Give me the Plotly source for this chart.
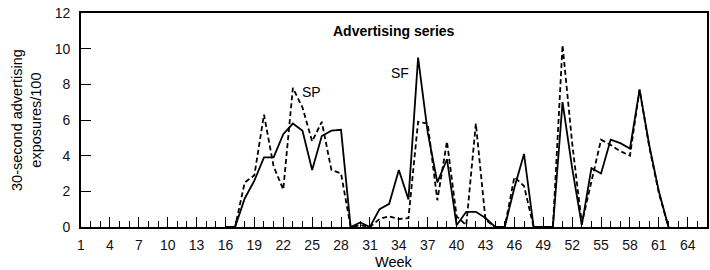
import plotly.graph_objects as go

weeks = list(range(16, 63))
sf_solid = [0, 0, 1.6, 2.6, 3.9, 3.9, 5.2, 5.8, 5.4, 3.2, 5.1, 5.4, 5.45,
            0, 0.25, 0, 1.0, 1.3, 3.2, 1.55, 9.5, 5.3, 2.5, 3.8, 0.1, 0.85,
            0.85, 0.5, 0, 0, 2.2, 4.1, 0, 0, 0, 7.0, 3.3, 0.1, 3.3, 3.0, 4.9,
            4.7, 4.4, 7.7, 4.6, 2.0, 0]
sp_dashed = [0, 0, 2.5, 2.9, 6.3, 3.4, 2.1, 7.8, 6.7, 4.8, 5.9, 3.2, 3.0,
             0, 0.1, 0, 0.45, 0.6, 0.45, 0.5, 5.9, 5.8, 1.5, 4.8, 0.6, 0.1,
             5.8, 0.4, 0, 0, 2.8, 2.3, 0, 0, 0, 10.2, 4.7, 0.2, 2.5, 4.9, 4.6,
             4.25, 4.0, 7.7, 4.5, 1.9, 0]
x_tick_labels = list(range(1, 65, 3))
y_tick_labels = list(range(0, 13, 2))

FONT = "Liberation Sans, Arial, sans-serif"

fig = go.Figure()
fig.add_trace(go.Scatter(x=weeks, y=sp_dashed, mode="lines", name="SP",
                         line=dict(color="black", width=1.8, dash="5px,3px")))
fig.add_trace(go.Scatter(x=weeks, y=sf_solid, mode="lines", name="SF",
                         line=dict(color="black", width=1.8)))

fig.update_layout(
    width=710, height=270,
    margin=dict(l=81, r=1, t=13, b=43),
    paper_bgcolor="white", plot_bgcolor="white",
    showlegend=False,
    font=dict(family=FONT, size=14, color="#111"),
    xaxis=dict(range=[1, 66], showgrid=False, zeroline=False,
               showline=True, linecolor="black", linewidth=1.8, mirror=True,
               tickmode="array", tickvals=x_tick_labels,
               ticktext=[str(v) for v in x_tick_labels],
               ticks="inside", ticklen=10, tickwidth=1.3, tickcolor="black",
               ticklabelstandoff=4,
               minor=dict(ticks="inside", ticklen=6, tickwidth=1.3,
                          tickcolor="black", dtick=1, tick0=1, showgrid=False),
               tickfont=dict(size=14)),
    yaxis=dict(range=[0, 12], showgrid=False, zeroline=False,
               showline=True, linecolor="black", linewidth=1.8, mirror=True,
               tickmode="array", tickvals=y_tick_labels,
               ticks="inside", ticklen=10, tickwidth=1.3, tickcolor="black",
               ticklabelstandoff=6, tickfont=dict(size=14)),
)

fig.add_annotation(text="<b>Advertising series</b>", xref="paper", yref="paper",
                   x=0.5, y=(226.7 - 31) / 213.7, xanchor="center", yanchor="middle",
                   showarrow=False, font=dict(size=14, family=FONT, color="black"))
fig.add_annotation(text="SP", x=24.9, y=7.56, showarrow=False,
                   xanchor="center", yanchor="middle",
                   font=dict(size=14, family=FONT, color="black"))
fig.add_annotation(text="SF", x=34.1, y=8.63, showarrow=False,
                   xanchor="center", yanchor="middle",
                   font=dict(size=14, family=FONT, color="black"))
fig.add_annotation(text="Week", xref="paper", yref="paper", x=0.5,
                   y=(226.7 - 262) / 213.7, xanchor="center", yanchor="middle",
                   showarrow=False, font=dict(size=14.5, family=FONT, color="black"))
fig.add_annotation(text="30-second advertising<br>exposures/100", xref="paper",
                   yref="paper", x=0, xshift=-55, y=0.5, textangle=-90,
                   xanchor="center", yanchor="middle", showarrow=False,
                   font=dict(size=14.5, family=FONT, color="black"))

fig.write_html("out.html", config={"displayModeBar": False},
               post_script="document.body.style.margin='0';document.body.style.overflow='hidden';")
